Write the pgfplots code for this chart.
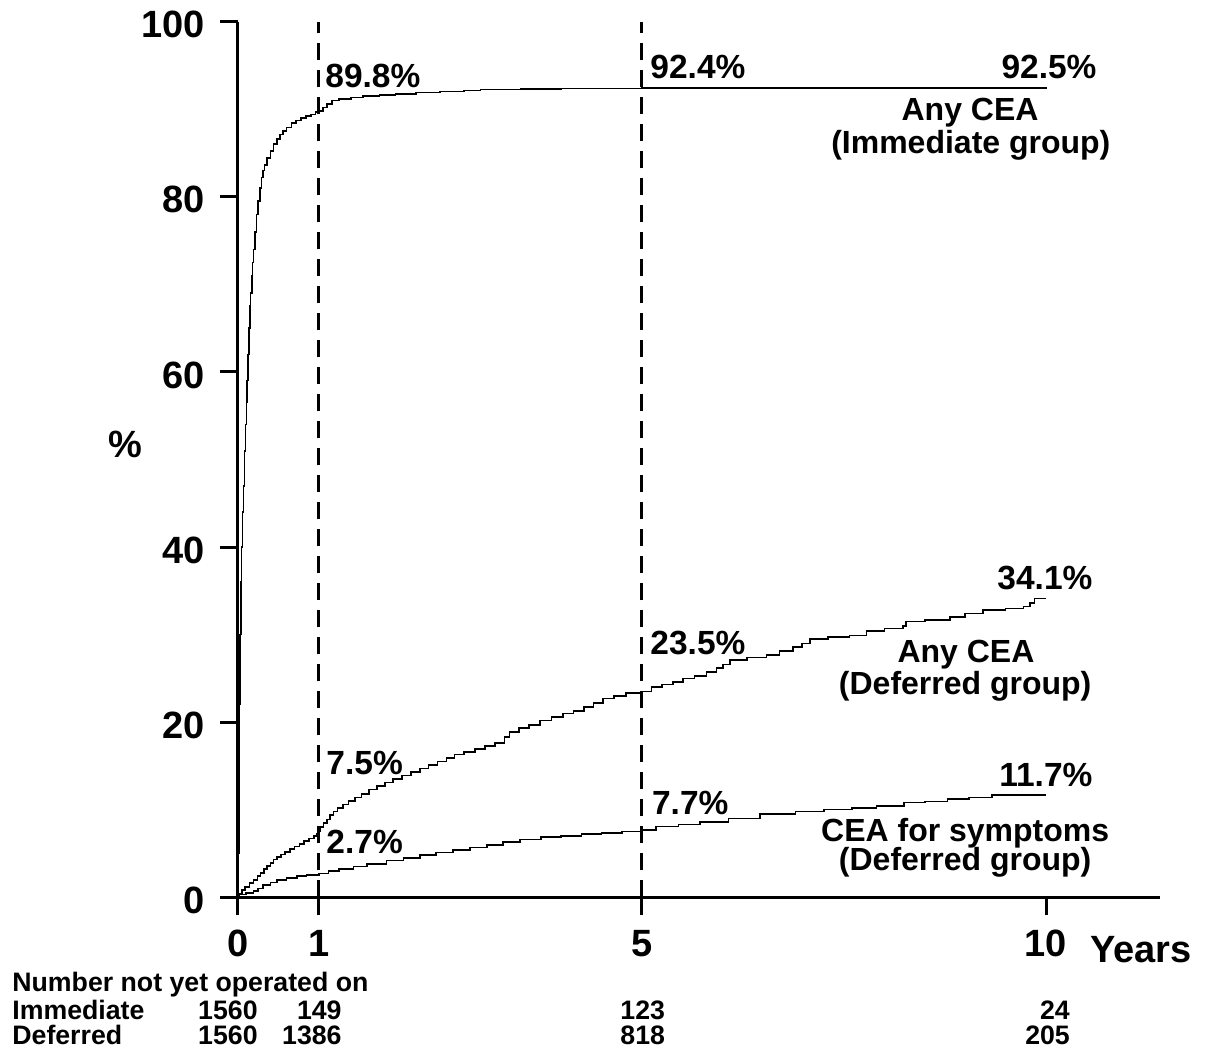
\documentclass[border=0pt]{standalone}
\usepackage{pgfplots}
\pgfplotsset{compat=1.18}
\usepackage{fontspec}
\setmainfont{Liberation Sans}
\begin{document}
\begin{tikzpicture}
\begin{axis}[
 scale only axis, width=461pt, height=437.8pt,
 xmin=0, xmax=11.41, ymin=0, ymax=100,
 axis x line=bottom, axis y line=left,
 axis line style={line width=1.5pt,-},
 tick align=outside, major tick length=9pt,
 tick style={line width=1.5pt, black},
 xtick={0,1,5,10}, xticklabels={0,1,5,10},
 ytick={0,20,40,60,80,100}, yticklabels={0,20,40,60,80,100},
 ticklabel style={font=\fontsize{19}{23}\selectfont\bfseries},
 xticklabel style={yshift=-4pt},
 yticklabel style={xshift=-4pt, yshift=-1.5pt},
 /pgf/number format/assume math mode=true,
 clip=false,
 every node/.append style={inner sep=0pt},
]
% dashed reference lines
\addplot[black, line width=1.5pt, dash pattern=on 8.5pt off 5pt] coordinates {(1,0) (1,100)};
\addplot[black, line width=1.5pt, dash pattern=on 8.5pt off 5pt] coordinates {(5,0) (5,100)};
% Immediate group, any CEA
\addplot[black, line width=0.8pt, const plot] coordinates {
(0,0) (0.005,5) (0.01,15) (0.02,22) (0.025,30) (0.035,36) (0.045,40) (0.055,44) (0.066,47) (0.08,51) (0.095,54) (0.105,56.5) (0.115,59) (0.125,62) (0.136,65) (0.147,67.5) (0.157,69) (0.17,71) (0.18,72.5) (0.19,74) (0.21,76) (0.23,78) (0.25,79.5) (0.27,81) (0.29,82.2) (0.31,83) (0.33,83.6) (0.36,84.4) (0.40,85.2) (0.44,86) (0.48,86.6) (0.52,87.1) (0.56,87.5) (0.60,87.9) (0.66,88.4) (0.72,88.7) (0.78,89.0) (0.84,89.2) (0.90,89.4) (0.96,89.7) (1.0,89.8) (1.05,90.2) (1.10,90.6) (1.16,91.0) (1.25,91.2) (1.40,91.35) (1.55,91.5) (1.75,91.6) (1.95,91.75) (2.2,91.9) (2.5,92.05) (2.8,92.15) (3.0,92.25) (3.5,92.3) (4.0,92.35) (5.0,92.4) (7.5,92.45) (10,92.5)};
% Deferred group, any CEA
\addplot[black, line width=0.8pt, const plot] coordinates {
(0,0) (0.01,0.4) (0.05,0.8) (0.09,1.2) (0.14,1.6) (0.19,2.0) (0.24,2.4) (0.28,2.8) (0.32,3.2) (0.36,3.6) (0.40,3.9) (0.44,4.3) (0.48,4.6) (0.53,4.9) (0.58,5.2) (0.64,5.5) (0.70,5.8) (0.76,6.1) (0.82,6.4) (0.88,6.7) (0.94,7.0) (0.98,7.3) (1.0,7.5) (1.02,8.0) (1.06,8.5) (1.10,8.9) (1.14,9.4) (1.18,9.8) (1.23,10.2) (1.30,10.6) (1.37,11.0) (1.45,11.4) (1.53,11.8) (1.62,12.3) (1.72,12.7) (1.82,13.1) (1.92,13.5) (2.03,13.9) (2.14,14.3) (2.25,14.7) (2.36,15.1) (2.47,15.5) (2.58,15.9) (2.68,16.3) (2.80,16.6) (2.93,16.9) (3.06,17.3) (3.18,17.6) (3.30,18.3) (3.36,18.9) (3.48,19.3) (3.60,19.7) (3.74,20.2) (3.88,20.6) (4.02,21.0) (4.15,21.3) (4.28,21.7) (4.40,22.2) (4.52,22.7) (4.65,23.0) (4.80,23.3) (5.0,23.5) (5.12,24.0) (5.25,24.3) (5.38,24.6) (5.51,25.0) (5.65,25.3) (5.80,25.7) (5.92,26.2) (6.00,26.6) (6.09,27.1) (6.30,27.4) (6.54,27.7) (6.70,28.1) (6.87,28.6) (6.98,29.0) (7.08,29.5) (7.30,29.7) (7.57,29.9) (7.78,30.4) (8.0,30.7) (8.23,31.0) (8.27,31.5) (8.50,31.7) (8.81,32.0) (9.0,32.4) (9.22,32.8) (9.50,33.0) (9.72,33.2) (9.80,33.6) (9.86,34.1) (10,34.1)};
% Deferred group, CEA for symptoms
\addplot[black, line width=0.8pt, const plot] coordinates {
(0,0) (0.02,0.3) (0.10,0.5) (0.19,0.7) (0.25,1.0) (0.31,1.4) (0.40,1.7) (0.48,2.0) (0.60,2.2) (0.73,2.4) (0.85,2.55) (1.0,2.7) (1.12,3.0) (1.25,3.2) (1.43,3.5) (1.60,3.8) (1.84,4.2) (2.05,4.5) (2.25,4.8) (2.45,5.1) (2.66,5.4) (2.87,5.7) (3.08,5.95) (3.28,6.3) (3.49,6.6) (3.75,6.85) (4.0,7.0) (4.25,7.2) (4.5,7.35) (4.75,7.5) (5.0,7.7) (5.17,8.1) (5.45,8.3) (5.72,8.6) (6.07,9.0) (6.46,9.5) (6.90,9.8) (7.25,10.0) (7.60,10.2) (7.90,10.45) (8.24,10.8) (8.50,10.95) (8.78,11.2) (9.05,11.4) (9.33,11.7) (10,11.7)};
% percent annotations
\begin{scope}[every node/.style={inner sep=0pt, font=\fontsize{16.75}{20}\selectfont\bfseries}]
\node[anchor=base west] at (axis cs:1.077,92.54) {89.8\%};
\node[anchor=base west] at (axis cs:5.10,93.57) {92.4\%};
\node[anchor=base east] at (axis cs:10.63,93.57) {92.5\%};
\node[anchor=base east] at (axis cs:10.58,35.1) {34.1\%};
\node[anchor=base west] at (axis cs:5.10,27.68) {23.5\%};
\node[anchor=base west] at (axis cs:1.09,13.97) {7.5\%};
\node[anchor=base west] at (axis cs:1.09,5.02) {2.7\%};
\node[anchor=base west] at (axis cs:5.12,9.42) {7.7\%};
\node[anchor=base east] at (axis cs:10.58,12.6) {11.7\%};
\end{scope}
% curve labels
\begin{scope}[every node/.style={inner sep=0pt, anchor=base, font=\fontsize{16}{19}\selectfont\bfseries}]
\node at (axis cs:9.06,88.7) {Any CEA};
\node at (axis cs:9.07,85.0) {(Immediate group)};
\node at (axis cs:9.01,26.86) {Any CEA};
\node at (axis cs:9.00,23.2) {(Deferred group)};
\node at (axis cs:9.00,6.42) {CEA for symptoms};
\node at (axis cs:9.00,3.0) {(Deferred group)};
\end{scope}
% axis labels
\node[inner sep=0pt, font=\fontsize{19}{23}\selectfont\bfseries] at (axis cs:-1.398,51.77) {\%};
\node[inner sep=0pt, anchor=base west, font=\fontsize{19}{23}\selectfont\bfseries] at (axis cs:10.545,-7.5) {Years};
% number at risk table
\begin{scope}[every node/.style={inner sep=0pt, font=\fontsize{13.35}{16}\selectfont\bfseries}]
\node[anchor=base west] at (axis cs:-2.797,-10.82) {Number not yet operated on};
\node[anchor=base west] at (axis cs:-2.797,-14.0) {Immediate};
\node[anchor=base west] at (axis cs:-2.797,-16.87) {Deferred};
\node[anchor=base east] at (axis cs:0.248,-14.0) {1560};
\node[anchor=base east] at (axis cs:1.287,-14.0) {149};
\node[anchor=base east] at (axis cs:5.29,-14.0) {123};
\node[anchor=base east] at (axis cs:10.30,-14.0) {24};
\node[anchor=base east] at (axis cs:0.248,-16.87) {1560};
\node[anchor=base east] at (axis cs:1.287,-16.87) {1386};
\node[anchor=base east] at (axis cs:5.29,-16.87) {818};
\node[anchor=base east] at (axis cs:10.30,-16.87) {205};
\end{scope}
\coordinate (BL) at (axis cs:-2.9455,-18.24);
\coordinate (TR) at (axis cs:12.005,102.48);
\end{axis}
\path (BL) rectangle (TR);
\end{tikzpicture}
\end{document}
